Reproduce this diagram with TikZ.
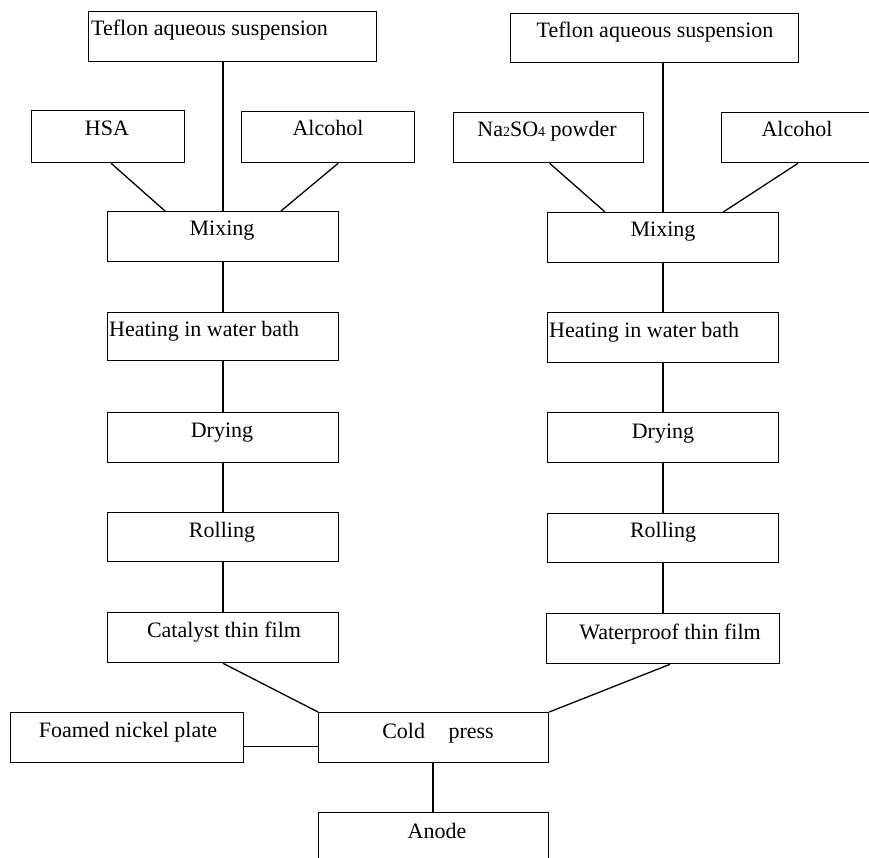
\documentclass[tikz,border=0pt]{standalone}
\usepackage{fontspec}
\setmainfont{Liberation Serif}
\usetikzlibrary{calc}
\newcommand{\smalldigit}[1]{{\fontsize{14}{14}\selectfont #1}}
\begin{document}
\begin{tikzpicture}[x=1pt,y=-1pt,
  box/.style={draw=black, line width=1.3pt, rectangle, anchor=north west, inner sep=0pt},
  txt/.style={font=\fontsize{22}{24}\selectfont, inner sep=0pt, anchor=base},
  txtl/.style={txt, anchor=base west},
  conn/.style={draw=black, line width=1.3pt}]
\useasboundingbox (0,0) rectangle (869,858);
\clip (0,0) rectangle (869,858);
% left column boxes
\node[box, minimum width=288, minimum height=50] (tefL) at (88,11) {};
\node[box, minimum width=153, minimum height=52] (hsa) at (31,110) {};
\node[box, minimum width=173, minimum height=51] (alcL) at (241,111) {};
\node[box, minimum width=231, minimum height=50] (mixL) at (107,211) {};
\node[box, minimum width=231, minimum height=48] (heatL) at (107,312) {};
\node[box, minimum width=231, minimum height=50] (dryL) at (107,412) {};
\node[box, minimum width=231, minimum height=49] (rollL) at (107,512) {};
\node[box, minimum width=231, minimum height=50] (cat) at (107,612) {};
% right column boxes
\node[box, minimum width=288, minimum height=49] (tefR) at (510,13) {};
\node[box, minimum width=190, minimum height=50] (na) at (453,112) {};
\node[box, minimum width=160, minimum height=50] (alcR) at (721,112) {};
\node[box, minimum width=231, minimum height=50] (mixR) at (547,212) {};
\node[box, minimum width=231, minimum height=50] (heatR) at (547,312) {};
\node[box, minimum width=231, minimum height=50] (dryR) at (547,412) {};
\node[box, minimum width=231, minimum height=49] (rollR) at (547,513) {};
\node[box, minimum width=233, minimum height=50] (wat) at (546,613) {};
% bottom boxes
\node[box, minimum width=233, minimum height=50] (foam) at (10,712) {};
\node[box, minimum width=230, minimum height=50] (cold) at (318,712) {};
\node[box, minimum width=230, minimum height=60] (anode) at (318,812) {};
% texts
\node[txtl] (tTefL) at (91,36) {Teflon aqueous suspension};
\node[txt] (tHsa) at (107,136) {HSA};
\node[txt] (tAlcL) at (328,136) {Alcohol};
\node[txt] (tMixL) at (222,236) {Mixing};
\node[txtl] (tHeatL) at (109,336) {Heating in water bath};
\node[txt] (tDryL) at (222,437) {Drying};
\node[txt] (tRollL) at (222,537) {Rolling};
\node[txt] (tCat) at (224,637) {Catalyst thin film};
\node[txt] (tTefR) at (655,38) {Teflon aqueous suspension};
\node[txt] (tNa) at (547,137) {Na\smalldigit{2}SO\smalldigit{4} powder};
\node[txt] (tAlcR) at (797,137) {Alcohol};
\node[txt] (tMixR) at (663,237) {Mixing};
\node[txtl] (tHeatR) at (549,337) {Heating in water bath};
\node[txt] (tDryR) at (663,438) {Drying};
\node[txt] (tRollR) at (663,537) {Rolling};
\node[txt] (tWat) at (670,639) {Waterproof thin film};
\node[txt] (tFoam) at (128,737) {Foamed nickel plate};
\node[txt] (tCold) at (438,738) {Cold\hspace{18pt} press};
\node[txt] (tAnode) at (437,838) {Anode};
% connectors left
\draw[conn] ($(tefL.south west)+(135,0)$) -- ($(mixL.north west)+(116,0)$);
\draw[conn] ($(hsa.south)+(3,0)$) -- ($(mixL.north west)+(58,0)$);
\draw[conn] ($(alcL.south)+(10,0)$) -- ($(mixL.north west)+(174,0)$);
\draw[conn] ($(mixL.south west)+(116,0)$) -- ($(heatL.north west)+(116,0)$);
\draw[conn] ($(heatL.south west)+(116,0)$) -- ($(dryL.north west)+(116,0)$);
\draw[conn] ($(dryL.south west)+(116,0)$) -- ($(rollL.north west)+(116,0)$);
\draw[conn] ($(rollL.south west)+(116,0)$) -- ($(cat.north west)+(116,0)$);
% connectors right
\draw[conn] ($(tefR.south west)+(153,0)$) -- ($(mixR.north west)+(116,0)$);
\draw[conn] ($(na.south)+(1,0)$) -- ($(mixR.north west)+(58,0)$);
\draw[conn] ($(alcR.south west)+(77,0)$) -- ($(mixR.north east)+(-56,0)$);
\draw[conn] ($(mixR.south west)+(116,0)$) -- ($(heatR.north west)+(116,0)$);
\draw[conn] ($(heatR.south west)+(116,0)$) -- ($(dryR.north west)+(116,0)$);
\draw[conn] ($(dryR.south west)+(116,0)$) -- ($(rollR.north west)+(116,0)$);
\draw[conn] ($(rollR.south west)+(116,0)$) -- ($(wat.north west)+(117,0)$);
% bottom connectors
\draw[conn] ($(cat.south west)+(116,0)$) -- (cold.north west);
\draw[conn] ($(wat.south west)+(124,0)$) -- (cold.north east);
\draw[conn] ($(foam.east)+(0,9)$) -- ($(cold.west)+(0,9)$);
\draw[conn] ($(cold.south west)+(115,0)$) -- ($(anode.north west)+(115,0)$);
\end{tikzpicture}
\end{document}
